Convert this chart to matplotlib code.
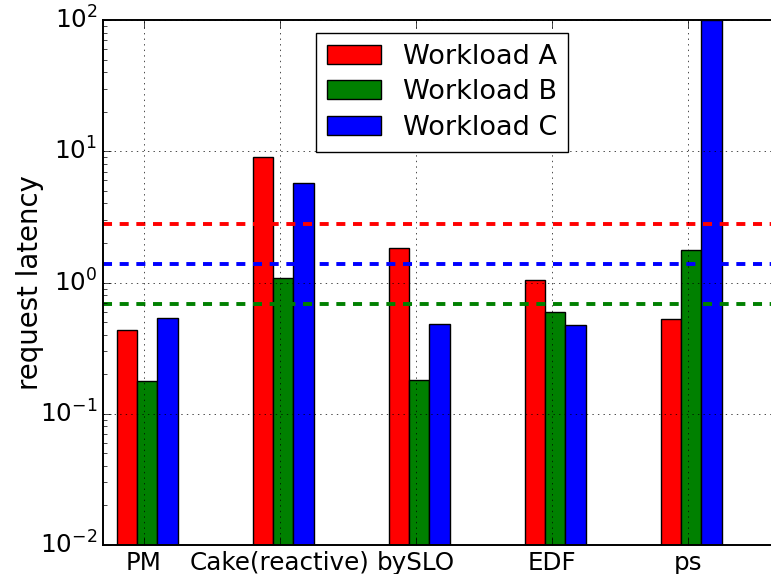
import numpy as np
import matplotlib
matplotlib.use("Agg")
from matplotlib import pyplot as plt

plt.style.use('classic')
plt.rcParams['font.family'] = ['DejaVu Sans']
plt.rcParams['font.size'] = 17.7
plt.rcParams['axes.linewidth'] = 1.4
plt.rcParams['lines.scale_dashes'] = False
plt.rcParams['xtick.major.size'] = 5.5
plt.rcParams['ytick.major.size'] = 5.5
plt.rcParams['ytick.minor.size'] = 2.8

schedulers = ['PM', 'Cake(reactive)', 'bySLO', 'EDF', 'ps']
workload_a = [0.435, 9.1, 1.82, 1.05, 0.525]
workload_b = [0.178, 1.08, 0.181, 0.596, 1.77]
workload_c = [0.54, 5.7, 0.483, 0.478, 100]
slo_a = 2.78
slo_b = 0.69
slo_c = 1.38

ind = np.arange(len(schedulers))
width = 0.15

fig = plt.figure(figsize=(7.71, 5.74), dpi=100)
ax = fig.add_axes([103/771, 29/574, 680/771, 525/574])

ax.bar(ind - 0.2, workload_a, width, color='r', edgecolor='k', align='edge', label='Workload A')
ax.bar(ind - 0.2 + width, workload_b, width, color='g', edgecolor='k', align='edge', label='Workload B')
ax.bar(ind - 0.2 + 2*width, workload_c, width, color='b', edgecolor='k', align='edge', label='Workload C')

# SLO lines
ax.axhline(slo_a, color='r', ls='--', lw=2.8, dashes=(6.5, 5.5))
ax.axhline(slo_c, color='b', ls='--', lw=2.8, dashes=(6.5, 5.5))
ax.axhline(slo_b, color='g', ls='--', lw=2.8, dashes=(6.5, 5.5))

ax.set_yscale('log')
ax.set_ylim(1e-2, 1e2)
ax.set_xlim(-0.3, 4.7)
ax.set_xticks(ind)
ax.set_xticklabels(schedulers)
ax.set_ylabel('request latency', fontsize=19.8, labelpad=-3)
ax.grid(True)

ax.legend(loc='upper left', bbox_to_anchor=(0.313, 0.975), borderaxespad=0,
          fontsize=19.5, handlelength=2.0, labelspacing=0.35)

plt.savefig('out.png', dpi=100)
